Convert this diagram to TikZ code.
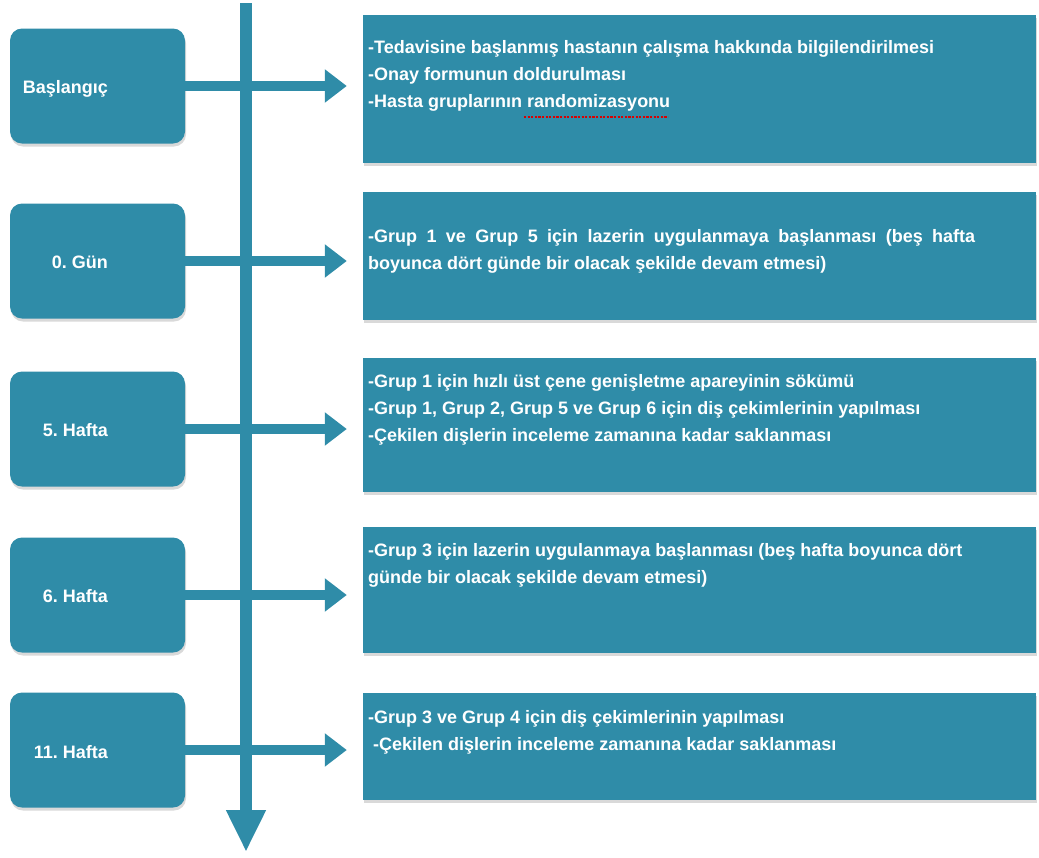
\documentclass[tikz,border=0pt]{standalone}
\usepackage{fontspec}
\setmainfont{Liberation Sans}
\usetikzlibrary{arrows.meta,shadows}
\definecolor{tealA}{RGB}{47,140,168}
\begin{document}
\begin{tikzpicture}[x=1pt,y=-1pt,
 shadowed/.style={drop shadow={opacity=0.3,shadow xshift=1pt,shadow yshift=-3pt}},
 lbox/.style={fill=tealA, rounded corners=12pt, minimum width=175pt, minimum height=115pt, inner sep=0pt, shadowed},
 rbox/.style={fill=tealA, minimum width=673pt, inner sep=0pt, shadowed},
 lbl/.style={text=white, font=\fontsize{18}{22}\selectfont\bfseries\frenchspacing, anchor=base east, inner sep=0pt},
 txt/.style={text=white, font=\fontsize{18}{27}\selectfont\bfseries\frenchspacing, align=left, anchor=north west, inner sep=0pt},
 harrow/.style={draw=tealA, line width=10pt, -{Triangle[length=22pt,width=32pt]}, shorten >=16pt},
 varrow/.style={draw=tealA, line width=12pt, -{Triangle[length=42pt,width=37pt]}}
]
\useasboundingbox (0,0) rectangle (1039,857);

% right boxes
\node[rbox, minimum height=148pt] (r1) at (699.5,89) {};
\node[rbox, minimum height=128pt] (r2) at (699.5,256) {};
\node[rbox, minimum height=134pt] (r3) at (699.5,425) {};
\node[rbox, minimum height=126pt] (r4) at (699.5,590) {};
\node[rbox, minimum height=107pt] (r5) at (699.5,746.5) {};

% left boxes
\node[lbox] (b1) at (97.5,86) {};
\node[lbox] (b2) at (97.5,261) {};
\node[lbox] (b3) at (97.5,429) {};
\node[lbox] (b4) at (97.5,595) {};
\node[lbox] (b5) at (97.5,750) {};

% labels
\node[lbl] (l1) at (108,93) {Başlangıç};
\node[lbl] (l2) at (108,268) {0. Gün};
\node[lbl] (l3) at (108,436) {5. Hafta};
\node[lbl] (l4) at (108,602) {6. Hafta};
\node[lbl] (l5) at (108,758) {11. Hafta};

% texts
\node[txt] (t1) at (368,40) {-Tedavisine başlanmış hastanın çalışma hakkında bilgilendirilmesi\\-Onay formunun doldurulması\\-Hasta gruplarının randomizasyonu};
\node[txt] (t2) at (368,229) {\hbox to 607pt{-Grup 1 ve Grup 5 için lazerin uygulanmaya başlanması (beş hafta}\\boyunca dört günde bir olacak şekilde devam etmesi)};
\node[txt] (t3) at (368,374) {-Grup 1 için hızlı üst çene genişletme apareyinin sökümü\\-Grup 1, Grup 2, Grup 5 ve Grup 6 için diş çekimlerinin yapılması\\-Çekilen dişlerin inceleme zamanına kadar saklanması};
\node[txt] (t4) at (368,543) {-Grup 3 için lazerin uygulanmaya başlanması (beş hafta boyunca dört\\günde bir olacak şekilde devam etmesi)};
\node[txt] (t5) at (368,710) {-Grup 3 ve Grup 4 için diş çekimlerinin yapılması\\\ -Çekilen dişlerin inceleme zamanına kadar saklanması};

% spell-check underline
\draw[red!85!black, line width=2.4pt, dash pattern=on 2.2pt off 1.4pt] (524,117) -- (668,117);

% horizontal arrows
\draw[harrow] (b1.east) -- (b1.east -| r1.west);
\draw[harrow] (b2.east) -- (b2.east -| r2.west);
\draw[harrow] (b3.east) -- (b3.east -| r3.west);
\draw[harrow] (b4.east) -- (b4.east -| r4.west);
\draw[harrow] (b5.east) -- (b5.east -| r5.west);

% timeline
\coordinate (vt) at (246,3);
\coordinate (vb) at (246,852);
\draw[varrow] (vt) -- (vb);
\end{tikzpicture}
\end{document}
